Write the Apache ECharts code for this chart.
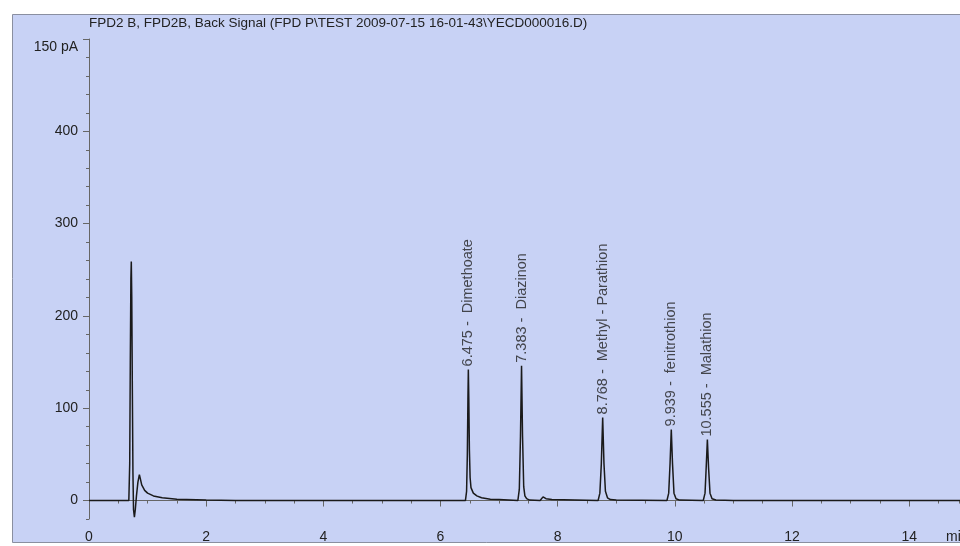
<!DOCTYPE html>
<html>
<head>
<meta charset="utf-8">
<script src="https://cdn.jsdelivr.net/npm/echarts@6/dist/echarts.min.js"></script>
<style>html,body{margin:0;padding:0;background:#fff}#c{width:960px;height:546px}</style>
</head>
<body>
<div id="c"></div>
<script>
// Chromatogram trace (time in min, signal in pA)
const traceTime = [0, 0.68, 0.695, 0.705, 0.715, 0.722, 0.73, 0.74, 0.75, 0.76, 0.775, 0.79, 0.81, 0.835, 0.86, 0.875, 0.9, 0.95, 1.0, 1.1, 1.25, 1.5, 2.0, 2.5,
  6.425, 6.445, 6.458, 6.468, 6.475, 6.483, 6.493, 6.505, 6.52, 6.56, 6.62, 6.7, 6.85, 7.0,
  7.32, 7.345, 7.365, 7.383, 7.4, 7.42, 7.44, 7.47, 7.52, 7.7, 7.75, 7.8, 7.9,
  8.69, 8.72, 8.745, 8.768, 8.79, 8.815, 8.85, 8.9, 9.0,
  9.865, 9.895, 9.918, 9.939, 9.96, 9.985, 10.02, 10.08,
  10.485, 10.515, 10.535, 10.555, 10.575, 10.6, 10.635, 10.7, 11.0, 15.2];
const traceSignal = [0, 0, 40, 150, 240, 259, 220, 120, 30, -10, -18, -10, 5, 20, 28, 24, 17, 11, 8, 5, 3, 1.5, 0.5, 0,
  0, 10, 50, 110, 142, 110, 55, 25, 14, 8, 5, 3, 1.5, 1,
  0, 12, 70, 146, 70, 15, 5, 2, 0.5, 0, 4, 2, 1,
  0, 8, 40, 90, 40, 10, 3, 1, 0.5,
  0, 8, 40, 77, 40, 8, 2, 0.5,
  0, 8, 36, 66, 36, 8, 2, 0.5, 0, 0];

// Peak annotations
const peakTimes = [6.475, 7.383, 8.768, 9.939, 10.555];
const peakHeights = [142, 146, 90, 77, 66];
const peakNames = ['Dimethoate', 'Diazinon', 'Methyl - Parathion', 'fenitrothion', 'Malathion'];

// Axis ticks / labels
const xLabels = [0, 2, 4, 6, 8, 10, 12, 14];
const yLabels = [0, 100, 200, 300, 400];
const yMajorTicks = [0, 100, 200, 300, 400, 500];
const titleText = 'FPD2 B, FPD2B, Back Signal (FPD P\\TEST 2009-07-15 16-01-43\\YECD000016.D)';
const yUnitText = '150 pA';
const xUnitText = 'min';

const FONT = '"Liberation Sans", Arial, sans-serif';
const TXT = '#222';
const AX = '#666';

const chart = echarts.init(document.getElementById('c'), null, {renderer: 'canvas'});
const gridLeft = 89, gridTop = 39, gridW = 870, gridH = 480;

const trace = traceTime.map((t, i) => [t, traceSignal[i]]);
const peaks = peakTimes.map((t, i) => ({value: [t, peakHeights[i]], name: t.toFixed(3) + ' -  ' + peakNames[i]}));

chart.setOption({
  animation: false,
  backgroundColor: '#ffffff',
  graphic: [
    {type: 'rect', z: -10, shape: {x: 12.5, y: 14.5, width: 980, height: 528}, style: {fill: '#c8d2f5', stroke: '#8a8fa0', lineWidth: 1}},
    {type: 'text', z: 5, left: 89, top: 16, style: {text: titleText, font: '13.5px ' + FONT, fill: TXT}},
    {type: 'text', z: 5, right: 882, top: 40, style: {text: yUnitText, font: '14px ' + FONT, fill: TXT}},
    {type: 'text', z: 5, left: 946, top: 530, style: {text: xUnitText, font: '14px ' + FONT, fill: TXT}}
  ],
  grid: {left: gridLeft, top: gridTop, width: gridW, height: gridH, show: false},
  xAxis: [
    {type: 'value', min: 0, max: 14.85, position: 'bottom',
      axisLine: {show: true, lineStyle: {color: AX, width: 1}},
      axisTick: {show: true, length: 6, customValues: xLabels, lineStyle: {color: AX}},
      axisLabel: {customValues: xLabels, fontSize: 14, fontFamily: FONT, color: TXT, margin: 11},
      splitLine: {show: false}},
    {type: 'value', min: 0, max: 14.85, interval: 0.5, position: 'bottom',
      axisLine: {show: false},
      axisTick: {show: true, length: 3, lineStyle: {color: AX}},
      axisLabel: {show: false}, splitLine: {show: false}}
  ],
  yAxis: [
    {type: 'value', min: -20, max: 500, position: 'left',
      axisLine: {show: true, lineStyle: {color: AX, width: 1}},
      axisTick: {show: true, length: 6, customValues: yMajorTicks, lineStyle: {color: AX}},
      axisLabel: {customValues: yLabels, fontSize: 14, fontFamily: FONT, color: TXT, margin: 11},
      splitLine: {show: false}},
    {type: 'value', min: -20, max: 500, interval: 20, position: 'left',
      axisLine: {show: false},
      axisTick: {show: true, length: 3, lineStyle: {color: AX}},
      axisLabel: {show: false}, splitLine: {show: false}}
  ],
  series: [
    {type: 'line', xAxisIndex: 0, yAxisIndex: 0, data: trace, showSymbol: false, symbol: 'none',
      lineStyle: {color: '#1a1a1a', width: 1.5}, z: 3},
    {type: 'scatter', xAxisIndex: 0, yAxisIndex: 0, data: peaks, symbolSize: 0.1,
      itemStyle: {color: 'transparent'},
      label: {show: true, position: 'top', distance: 3, rotate: 90, align: 'left', verticalAlign: 'middle',
        formatter: p => p.name, fontSize: 14.5, fontFamily: FONT, color: TXT}, z: 4}
  ]
});
</script>
</body>
</html>
